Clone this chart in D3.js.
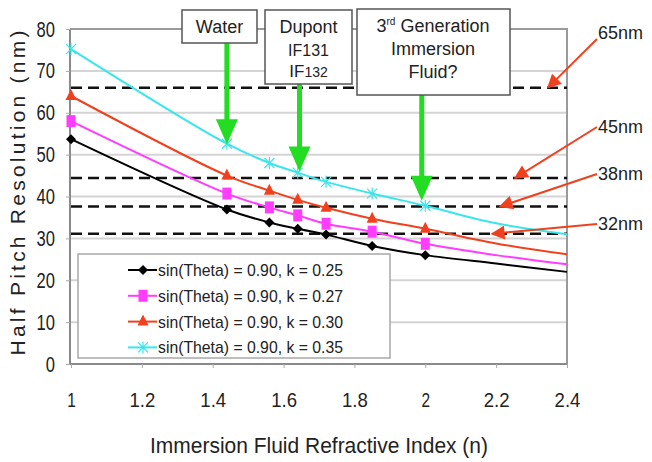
<!DOCTYPE html>
<html>
<head>
<meta charset="utf-8">
<script src="https://cdn.jsdelivr.net/npm/d3@7"></script>
<style>
  body { margin: 0; background: #fff; }
  svg { display: block; }
  .reg { font-family: "Liberation Sans", Arial, sans-serif; }
</style>
</head>
<body>
<div id="graph"></div>
<script>
// refractive index values where the curves are sampled
var nValues = [1, 1.44, 1.56, 1.64, 1.72, 1.85, 2.0, 2.2, 2.4]
var markerCount = 7   // markers only on the first 7 points

var seriesNames = [
  'sin(Theta) = 0.90, k = 0.25',
  'sin(Theta) = 0.90, k = 0.27',
  'sin(Theta) = 0.90, k = 0.30',
  'sin(Theta) = 0.90, k = 0.35'
]
var k025 = [53.7, 36.9, 33.8, 32.3, 30.9, 28.2, 26.0, 24.0, 22.0]
var k027 = [58.0, 40.7, 37.4, 35.5, 33.5, 31.6, 28.7, 26.0, 23.8]
var k030 = [64.0, 45.0, 41.4, 39.2, 37.3, 34.7, 32.3, 28.8, 26.2]
var k035 = [75.2, 52.6, 48.0, 45.7, 43.5, 40.7, 37.8, 33.6, 31.0]
var seriesColors = ['#000000', '#ff3cff', '#f0401e', '#38e6ec']
var seriesShapes = ['diamond', 'square', 'triangle', 'cross']

var xTicks = [1, 1.2, 1.4, 1.6, 1.8, 2, 2.2, 2.4]
var yTicks = [0, 10, 20, 30, 40, 50, 60, 70, 80]

// node dashed lines and their labels
var nodeValues = [66, 44.4, 37.6, 31.1]
var nodeLabels = ['65nm', '45nm', '38nm', '32nm']

// fluid call-outs: n where the arrow points, and the curve value at its tip
var fluidN = [1.44, 1.645, 1.99]
var fluidArrowTip = [52.5, 46, 39]

var width = 652, height = 462
var svg = d3.select('#graph').html('').append('svg')
  .attr('width', width).attr('height', height)

var x = d3.scaleLinear().domain([1, 2.4]).range([71, 567])
var y = d3.scaleLinear().domain([0, 80]).range([364, 29])

// squeeze text horizontally, the original uses a condensed face
function narrow(sel, perChar) {
  sel.each(function() {
    var t = d3.select(this)
    t.attr('textLength', t.text().length * perChar).attr('lengthAdjust', 'spacingAndGlyphs')
  })
}

var defs = svg.append('defs')
defs.append('marker')
  .attr('id', 'redhead')
  .attr('viewBox', '0 0 10 10')
  .attr('refX', 9).attr('refY', 5)
  .attr('markerWidth', 8).attr('markerHeight', 7)
  .attr('markerUnits', 'strokeWidth')
  .attr('orient', 'auto')
  .append('path').attr('d', 'M0,0L10,5L0,10Z').attr('fill', '#f0401e')

/* grid + frame */
svg.append('g').selectAll('line.grid').data(yTicks.filter(d => d > 0 && d < 80))
  .join('line')
  .attr('x1', x(1) - 1).attr('x2', x(2.4))
  .attr('y1', d => y(d)).attr('y2', d => y(d))
  .attr('stroke', '#d4d4d4').attr('stroke-width', 2)

svg.append('path')
  .attr('d', `M${x(1) - 1},${y(80)}H${x(2.4)}V${y(0)}`)
  .attr('fill', 'none').attr('stroke', '#9a9a9a').attr('stroke-width', 2)

// axes
var xAxis = svg.append('g')
  .attr('transform', `translate(0,${y(0)})`)
  .call(d3.axisBottom(x).tickValues(xTicks).tickSize(4).tickPadding(32).tickFormat(d3.format('')))
xAxis.select('.domain').attr('stroke', '#8a8a8a').attr('stroke-width', 2)
  .attr('d', `M${x(1) - 1},0H${x(2.4)}`)
xAxis.selectAll('.tick line').attr('stroke', '#aaa')
xAxis.selectAll('text').attr('class', 'reg').attr('font-size', 21).attr('fill', '#222')
  .attr('dy', '0.32em')
  .call(narrow, 8.6)

var yAxis = svg.append('g')
  .attr('transform', `translate(${x(1) - 1},0)`)
  .call(d3.axisLeft(y).tickValues(yTicks).tickSize(4).tickPadding(11))
yAxis.select('.domain').attr('stroke', '#8a8a8a').attr('stroke-width', 2)
  .attr('d', `M0,${y(80)}V${y(0)}`)
yAxis.selectAll('.tick line').attr('stroke', '#aaa')
yAxis.selectAll('text').attr('class', 'reg').attr('font-size', 22).attr('fill', '#222')
  .call(narrow, 9.2)

svg.append('text').attr('class', 'reg')
  .attr('x', 319).attr('y', 453)
  .attr('text-anchor', 'middle').attr('font-size', 22).attr('fill', '#222')
  .attr('textLength', 338).attr('lengthAdjust', 'spacingAndGlyphs')
  .text('Immersion Fluid Refractive Index (n)')

svg.append('text').attr('class', 'reg')
  .attr('transform', 'translate(25,193) rotate(-90)')
  .attr('text-anchor', 'middle').attr('font-size', 21).attr('fill', '#222')
  .attr('textLength', 325).attr('lengthAdjust', 'spacing')
  .text('Half Pitch Resolution (nm)')

/* dashed node lines */
svg.append('g').selectAll('line').data(nodeValues).join('line')
  .attr('x1', x(1)).attr('x2', x(2.4))
  .attr('y1', d => y(d)).attr('y2', d => y(d))
  .attr('stroke', '#111').attr('stroke-width', 2.5)
  .attr('stroke-dasharray', '11,6')

/* legend box */
var legend = svg.append('g')
legend.append('rect')
  .attr('x', 78).attr('y', 254).attr('width', 312).attr('height', 104)
  .attr('fill', '#fff').attr('stroke', '#a8a8a8').attr('stroke-width', 1.5)

/* series */
var allSeries = [k025, k027, k030, k035]
var line = d3.line()
  .x((d, i) => x(nValues[i]))
  .y(d => y(d))
  .curve(d3.curveCatmullRom.alpha(0.5))

function drawMarker(g, shape, color, cx, cy) {
  if (shape == 'diamond') {
    g.append('path').attr('d', `M${cx},${cy - 5}L${cx + 5},${cy}L${cx},${cy + 5}L${cx - 5},${cy}Z`)
      .attr('fill', color)
  } else if (shape == 'square') {
    g.append('rect').attr('x', cx - 4.5).attr('y', cy - 6).attr('width', 9).attr('height', 12)
      .attr('fill', color)
  } else if (shape == 'triangle') {
    g.append('path').attr('d', `M${cx},${cy - 7}L${cx + 5.5},${cy + 4}L${cx - 5.5},${cy + 4}Z`)
      .attr('fill', color)
  } else {
    g.append('path')
      .attr('d', `M${cx - 5},${cy - 5}L${cx + 5},${cy + 5}M${cx - 5},${cy + 5}L${cx + 5},${cy - 5}M${cx},${cy - 6}V${cy + 6}`)
      .attr('stroke', color).attr('stroke-width', 1.2).attr('fill', 'none')
  }
}

allSeries.forEach((vals, si) => {
  var g = svg.append('g')
  g.append('path').datum(vals)
    .attr('d', line)
    .attr('fill', 'none')
    .attr('stroke', seriesColors[si])
    .attr('stroke-width', 2)
  vals.slice(0, markerCount).forEach((v, i) => {
    drawMarker(g, seriesShapes[si], seriesColors[si], x(nValues[i]), y(v))
  })
})

/* legend entries */
seriesNames.forEach((name, i) => {
  var ly = 270 + i * 25.8
  legend.append('line')
    .attr('x1', 128).attr('x2', 157).attr('y1', ly).attr('y2', ly)
    .attr('stroke', seriesColors[i]).attr('stroke-width', 2)
  drawMarker(legend, seriesShapes[i], seriesColors[i], 143, ly)
  legend.append('text').attr('class', 'reg')
    .attr('x', 158).attr('y', ly + 6)
    .attr('font-size', 17).attr('fill', '#222')
    .attr('textLength', 185).attr('lengthAdjust', 'spacingAndGlyphs')
    .text(name)
})

/* fluid call-out arrows */
var green = '#22dd22'
var boxBottoms = [43, 84, 95]
fluidN.forEach((n, i) => {
  var ax = x(n), tip = y(fluidArrowTip[i])
  svg.append('rect')
    .attr('x', ax - 2.5).attr('y', boxBottoms[i]).attr('width', 5).attr('height', tip - 24 - boxBottoms[i])
    .attr('fill', green)
  svg.append('path')
    .attr('d', `M${ax - 11},${tip - 25}L${ax + 11},${tip - 25}L${ax},${tip}Z`)
    .attr('fill', green)
})

function box(x0, y0, w, h) {
  svg.append('rect').attr('x', x0).attr('y', y0).attr('width', w).attr('height', h)
    .attr('fill', '#fff').attr('stroke', '#555').attr('stroke-width', 1.5)
}
box(182, 10, 75, 33)
svg.append('text').attr('class', 'reg').attr('x', 219.5).attr('y', 33)
  .attr('text-anchor', 'middle').attr('font-size', 18).attr('fill', '#222').text('Water')

box(265, 10, 87, 74)
svg.append('text').attr('class', 'reg').attr('x', 308.5).attr('y', 33)
  .attr('text-anchor', 'middle').attr('font-size', 18).attr('fill', '#222').text('Dupont')
svg.append('text').attr('class', 'reg').attr('x', 308.5).attr('y', 56)
  .attr('text-anchor', 'middle').attr('font-size', 16).attr('fill', '#222').text('IF131')
var if132 = svg.append('text').attr('class', 'reg').attr('x', 308.5).attr('y', 77)
  .attr('text-anchor', 'middle').attr('font-size', 17).attr('fill', '#222')
if132.append('tspan').text('IF')
if132.append('tspan').attr('font-size', 14).text('132')

box(357, 9, 153, 86)
var gen = svg.append('text').attr('class', 'reg').attr('x', 433).attr('y', 32)
  .attr('text-anchor', 'middle').attr('font-size', 18).attr('fill', '#222')
gen.append('tspan').text('3')
gen.append('tspan').attr('font-size', 10).attr('dy', -7).text('rd')
gen.append('tspan').attr('dy', 7).text(' Generation')
svg.append('text').attr('class', 'reg').attr('x', 433).attr('y', 55)
  .attr('text-anchor', 'middle').attr('font-size', 18).attr('fill', '#222').text('Immersion')
svg.append('text').attr('class', 'reg').attr('x', 433).attr('y', 78)
  .attr('text-anchor', 'middle').attr('font-size', 18).attr('fill', '#222').text('Fluid?')

/* node labels with red arrows */
var labelY = [33, 127, 174, 224]
var arrowTipX = [548, 515, 500, 492]
nodeValues.forEach((v, i) => {
  svg.append('line')
    .attr('x1', 597).attr('y1', labelY[i] + (i == 0 ? 6 : 0))
    .attr('x2', arrowTipX[i]).attr('y2', y(v))
    .attr('stroke', '#f0401e').attr('stroke-width', 2)
    .attr('marker-end', 'url(#redhead)')
  svg.append('text').attr('class', 'reg')
    .attr('x', 598).attr('y', labelY[i] + 6)
    .attr('font-size', 18).attr('fill', '#222')
    .text(nodeLabels[i])
})
</script>
</body>
</html>
